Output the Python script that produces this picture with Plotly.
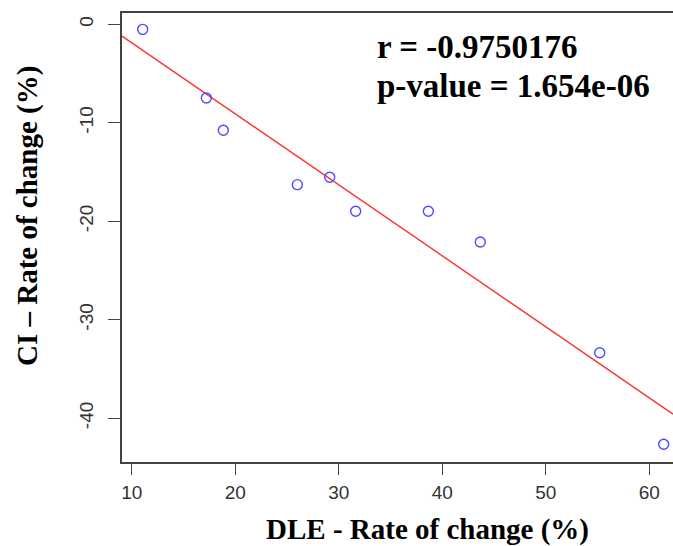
import numpy as np
import plotly.graph_objects as go

# Data
dle_change = [11.06, 17.21, 18.85, 26.00, 29.13, 31.64, 38.66, 43.68, 55.22, 61.40]
ci_change = [-0.51, -7.48, -10.76, -16.28, -15.53, -18.98, -18.98, -22.10, -33.34, -42.64]
x_ticks = [10, 20, 30, 40, 50, 60]
y_ticks = [0, -10, -20, -30, -40]
y_tick_labels = ["0", "-10", "-20", "-30", "-40"]
stat_lines = ["r = -0.9750176", "p-value = 1.654e-06"]

x_range = [9.06, 62.3]
y_range = [-44.44, 1.15]

slope, intercept = np.polyfit(dle_change, ci_change, 1)
fit_x = np.array(x_range)
fit_y = intercept + slope * fit_x

serif = "Liberation Serif, Times New Roman, serif"
sans = "Liberation Sans, Arial, sans-serif"

fig = go.Figure()
fig.add_trace(go.Scatter(
    x=fit_x, y=fit_y, mode="lines",
    line=dict(color="#ff3030", width=1.4),
    hoverinfo="skip", showlegend=False,
))
fig.add_trace(go.Scatter(
    x=dle_change, y=ci_change, mode="markers",
    marker=dict(symbol="circle-open", size=10, color="#4a4aff",
                line=dict(width=1.4, color="#4a4aff")),
    showlegend=False,
))

fig.update_layout(
    width=673, height=546,
    margin=dict(l=122, r=0, t=13, b=84),
    plot_bgcolor="white", paper_bgcolor="white",
    xaxis=dict(
        range=x_range, tickmode="array", tickvals=x_ticks,
        ticks="outside", ticklen=11, tickwidth=1.3, tickcolor="#444",
        showline=True, linecolor="#444", linewidth=1.5, mirror=True,
        showgrid=False, zeroline=False,
        tickfont=dict(family=sans, size=19, color="#333"),
        ticklabelstandoff=1,
    ),
    yaxis=dict(
        range=y_range, tickmode="array", tickvals=y_ticks, ticktext=y_tick_labels,
        ticks="outside", ticklen=12, tickwidth=1.3, tickcolor="#444",
        showline=True, linecolor="#444", linewidth=1.5, mirror=False,
        showgrid=False, zeroline=False, tickangle=-90,
        tickfont=dict(family=sans, size=19, color="#333"),
        ticklabelstandoff=8,
    ),
    annotations=[
        dict(text=f"<b>{stat_lines[0]}</b>", xref="paper", yref="paper",
             x=(375 - 122) / 551, y=(462 - 47) / 449, xanchor="left", yanchor="middle",
             showarrow=False, font=dict(family=serif, size=33, color="black")),
        dict(text=f"<b>{stat_lines[1]}</b>", xref="paper", yref="paper",
             x=(375 - 122) / 551, y=(462 - 86) / 449, xanchor="left", yanchor="middle",
             showarrow=False, font=dict(family=serif, size=33, color="black")),
        dict(text="<b>DLE - Rate of change (%)</b>", xref="paper", yref="paper",
             x=(427.5 - 122) / 551, y=(462 - 529) / 449, xanchor="center", yanchor="middle",
             showarrow=False, font=dict(family=serif, size=29, color="black")),
        dict(text="<b>CI \u2013 Rate of change (%)</b>", xref="paper", yref="paper",
             x=(28 - 122) / 551, y=(462 - 216) / 449, xanchor="center", yanchor="middle",
             textangle=-90,
             showarrow=False, font=dict(family=serif, size=29, color="black")),
    ],
)

fig.write_html(
    "out.html",
    config={"displayModeBar": False},
    post_script="document.body.style.margin='0';document.body.style.overflow='hidden';",
)
